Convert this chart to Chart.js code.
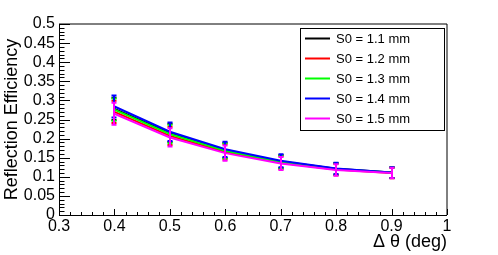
<!DOCTYPE html>
<html>
<head>
<meta charset="utf-8">
<script src="https://cdn.jsdelivr.net/npm/chart.js@4.4.1/dist/chart.umd.min.js"></script>
<style>
  html, body { margin: 0; padding: 0; background: #fff; }
  canvas { display: block; }
</style>
</head>
<body>
<canvas id="grafico" width="498" height="255"></canvas>
<script>
// data
const dTheta = [0.4, 0.5, 0.6, 0.7, 0.8, 0.9];
const eff11 = [0.278, 0.215, 0.169, 0.140, 0.121, 0.111];
const eff12 = [0.270, 0.207, 0.165, 0.137, 0.119, 0.110];
const eff13 = [0.276, 0.212, 0.168, 0.139, 0.120, 0.111];
const eff14 = [0.284, 0.218, 0.172, 0.142, 0.122, 0.111];
const eff15 = [0.265, 0.203, 0.162, 0.135, 0.118, 0.110];
const effErr = [0.029, 0.024, 0.020, 0.017, 0.015, 0.014];
const seriesNames = ['S0 = 1.1 mm', 'S0 = 1.2 mm', 'S0 = 1.3 mm', 'S0 = 1.4 mm', 'S0 = 1.5 mm'];
const xTicks = [0.3, 0.4, 0.5, 0.6, 0.7, 0.8, 0.9, 1.0];
const yTicks = [0, 0.05, 0.1, 0.15, 0.2, 0.25, 0.3, 0.35, 0.4, 0.45, 0.5];

const cores = ['#000000', '#ff0000', '#00ff00', '#0000ff', '#ff00ff'];
const series = [eff11, eff12, eff13, eff14, eff15];
const fonte = '"Liberation Sans", Arial, Helvetica, sans-serif';

function fmt(v) {
  return String(+v.toFixed(2));
}

// vertical error bars, drawn right after each graph like ROOT does
const barrasErro = {
  id: 'barrasErro',
  afterDatasetDraw(chart, args) {
    const ctx = chart.ctx;
    const xs = chart.scales.x, ys = chart.scales.y;
    const ds = chart.data.datasets[args.index];
    ctx.save();
    ctx.strokeStyle = ds.borderColor;
    ctx.lineWidth = 2;
    ds.data.forEach((p, i) => {
      const px = Math.round(xs.getPixelForValue(p.x)) + 0.0;
      const top = ys.getPixelForValue(p.y + effErr[i]);
      const bot = ys.getPixelForValue(p.y - effErr[i]);
      ctx.beginPath();
      ctx.moveTo(px, top);
      ctx.lineTo(px, bot);
      ctx.moveTo(px - 2.5, top);
      ctx.lineTo(px + 2.5, top);
      ctx.moveTo(px - 2.5, bot);
      ctx.lineTo(px + 2.5, bot);
      ctx.stroke();
    });
    ctx.restore();
  }
};

// frame, inward ticks and the legend box
const moldura = {
  id: 'moldura',
  afterDraw(chart) {
    const ctx = chart.ctx;
    const a = chart.chartArea;
    const xs = chart.scales.x, ys = chart.scales.y;
    ctx.save();
    ctx.strokeStyle = '#000';
    ctx.lineWidth = 1;
    ctx.beginPath();
    // axes
    ctx.moveTo(a.left + 0.5, a.top);
    ctx.lineTo(a.left + 0.5, a.bottom + 0.5);
    ctx.lineTo(a.right, a.bottom + 0.5);
    // top and right frame
    ctx.moveTo(a.left, a.top);
    ctx.lineTo(a.right, a.top);
    ctx.lineTo(a.right, a.bottom);
    // y ticks every 0.01, long every 0.05
    for (let k = 0; k <= 50; k++) {
      const py = Math.round(ys.getPixelForValue(k / 100)) + 0.5;
      const len = k % 5 === 0 ? 11 : 5.5;
      ctx.moveTo(a.left, py);
      ctx.lineTo(a.left + len, py);
    }
    // x ticks every 0.02, long every 0.1
    for (let k = 15; k <= 50; k++) {
      const px = Math.round(xs.getPixelForValue(k / 50)) + 0.5;
      const len = k % 5 === 0 ? 6 : 3;
      ctx.moveTo(px, a.bottom);
      ctx.lineTo(px, a.bottom - len);
    }
    ctx.stroke();

    // legend
    const bx = 300.5, by = 28.5, bw = 144, bh = 102;
    ctx.fillStyle = '#fff';
    ctx.fillRect(bx, by, bw, bh);
    ctx.strokeRect(bx, by, bw, bh);
    ctx.font = '13px ' + fonte;
    ctx.textBaseline = 'middle';
    ctx.textAlign = 'left';
    chart.data.datasets.forEach((ds, i) => {
      const yy = 38.5 + i * 20;
      ctx.strokeStyle = ds.borderColor;
      ctx.lineWidth = 2;
      ctx.beginPath();
      ctx.moveTo(305, yy);
      ctx.lineTo(330, yy);
      ctx.stroke();
      ctx.fillStyle = '#000';
      ctx.fillText(ds.label, 336, yy + 0.5);
    });
    ctx.restore();
  }
};

const el = document.getElementById('grafico');
new Chart(el, {
  type: 'line',
  data: {
    datasets: series.map((vals, i) => ({
      label: seriesNames[i],
      data: dTheta.map((x, j) => ({ x: x, y: vals[j] })),
      borderColor: cores[i],
      backgroundColor: cores[i],
      borderWidth: 2,
      pointRadius: 0,
      tension: 0,
      order: 5 - i
    }))
  },
  options: {
    responsive: false,
    animation: false,
    layout: { padding: { top: 24, right: 51, left: 0, bottom: 0 } },
    plugins: {
      legend: { display: false },
      tooltip: { enabled: false }
    },
    scales: {
      x: {
        type: 'linear',
        min: 0.3,
        max: 1.0,
        afterFit(scale) { scale.height = 40; },
        afterBuildTicks(scale) { scale.ticks = xTicks.map(v => ({ value: v })); },
        grid: { display: false, drawTicks: false },
        border: { display: false },
        ticks: {
          autoSkip: false,
          maxRotation: 0,
          padding: 2,
          color: '#000',
          font: { family: fonte, size: 16 },
          callback: v => fmt(v)
        },
        title: {
          display: true,
          text: 'Δ θ (deg)',
          align: 'end',
          color: '#000',
          font: { family: fonte, size: 18 },
          padding: { top: 0, bottom: 2 }
        }
      },
      y: {
        type: 'linear',
        min: 0,
        max: 0.5,
        afterFit(scale) { scale.width = 59; },
        afterBuildTicks(scale) { scale.ticks = yTicks.map(v => ({ value: v })); },
        grid: { display: false, drawTicks: false },
        border: { display: false },
        ticks: {
          autoSkip: false,
          padding: 4,
          color: '#000',
          font: { family: fonte, size: 16 },
          callback: v => fmt(v)
        },
        title: {
          display: true,
          text: 'Reflection Efficiency',
          align: 'center',
          color: '#000',
          font: { family: fonte, size: 18 },
          padding: { top: 1, bottom: 0 }
        }
      }
    }
  },
  plugins: [barrasErro, moldura]
});
</script>
</body>
</html>
